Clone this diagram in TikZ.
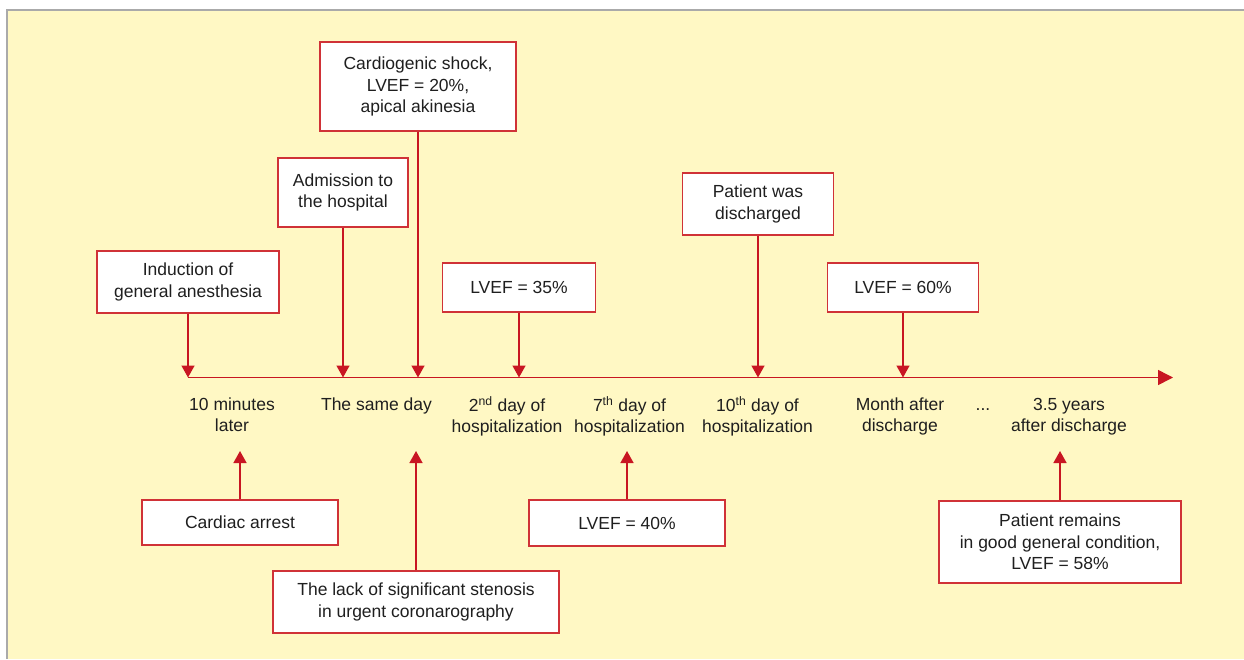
\documentclass[tikz,border=0pt]{standalone}
\usepackage{fontspec}
\setmainfont{Liberation Sans}
\usetikzlibrary{arrows.meta}
\definecolor{bgyellow}{RGB}{255,248,196}
\definecolor{tred}{RGB}{200,22,34}
\definecolor{bred}{RGB}{208,50,55}
\definecolor{framegray}{RGB}{170,170,170}
\begin{document}
\begin{tikzpicture}[x=1pt,y=-1pt,
  box/.style={draw=bred, line width=1.4pt, fill=white, inner sep=0pt, align=center,
    font=\fontsize{17.5}{21.5}\selectfont, text=black!88},
  lbl/.style={inner sep=0pt, align=center, anchor=north,
    font=\fontsize{17.5}{21}\selectfont, text=black!88},
  conn/.style={draw=tred, line width=1.5pt, -{Triangle[width=13pt,length=12pt]}}]
\useasboundingbox (0,0) rectangle (1244,659);
\fill[bgyellow] (7,10) rectangle (1244,659);
\draw[framegray, line width=2pt] (7,659) -- (7,10) -- (1244,10);

% timeline
\coordinate (t0) at (188,377.5);
\coordinate (t1) at (1173,377.5);
\coordinate (ua) at (0,451);
\draw[tred, line width=1.5pt, -{Triangle[width=15pt,length=15pt]}] (t0) -- (t1);

% top boxes
\node[box, minimum width=196pt, minimum height=89pt] (b1) at (418,86.5) {Cardiogenic shock,\\LVEF = 20\%,\\apical akinesia};
\node[box, minimum width=130pt, minimum height=69pt] (b2) at (343,192.5) {Admission to\\the hospital};
\node[box, minimum width=182pt, minimum height=62pt] (b3) at (188,282) {Induction of\\general anesthesia};
\node[box, minimum width=153pt, minimum height=49pt] (b4) at (519,287.5) {LVEF = 35\%};
\node[box, minimum width=151pt, minimum height=62pt] (b5) at (758,204) {Patient was\\discharged};
\node[box, minimum width=151pt, minimum height=49pt] (b6) at (903,287.5) {LVEF = 60\%};

\foreach \b in {b1,b2,b3,b4,b5,b6}
  \draw[conn] (\b.south) -- (\b.south |- t0);

% labels
\node[lbl] (l1) at (232,396) {\strut 10 minutes\\\strut later};
\node[lbl] (l2) at (376.5,396) {\strut The same day};
\node[lbl] (l3) at (507,396) {\strut 2\textsuperscript{nd} day of\\\strut hospitalization};
\node[lbl] (l4) at (629.5,396) {\strut 7\textsuperscript{th} day of\\\strut hospitalization};
\node[lbl] (l5) at (757.5,396) {\strut 10\textsuperscript{th} day of\\\strut hospitalization};
\node[lbl] (l6) at (900,396) {\strut Month after\\\strut discharge};
\node[lbl] (l7) at (983,396) {\strut ...};
\node[lbl] (l8) at (1069,396) {\strut 3.5 years\\\strut after discharge};

% bottom boxes
\node[box, minimum width=196pt, minimum height=45pt] (c1) at (240,522.5) {Cardiac arrest};
\node[box, minimum width=196pt, minimum height=46pt] (c2) at (627,523) {LVEF = 40\%};
\node[box, minimum width=286pt, minimum height=62pt] (c3) at (416,602) {The lack of significant stenosis\\in urgent coronarography};
\node[box, minimum width=242pt, minimum height=82pt] (c4) at (1060,542) {Patient remains\\in good general condition,\\LVEF = 58\%};

\foreach \b in {c1,c2,c3,c4}
  \draw[conn] (\b.north) -- (\b.north |- ua);
\end{tikzpicture}
\end{document}
